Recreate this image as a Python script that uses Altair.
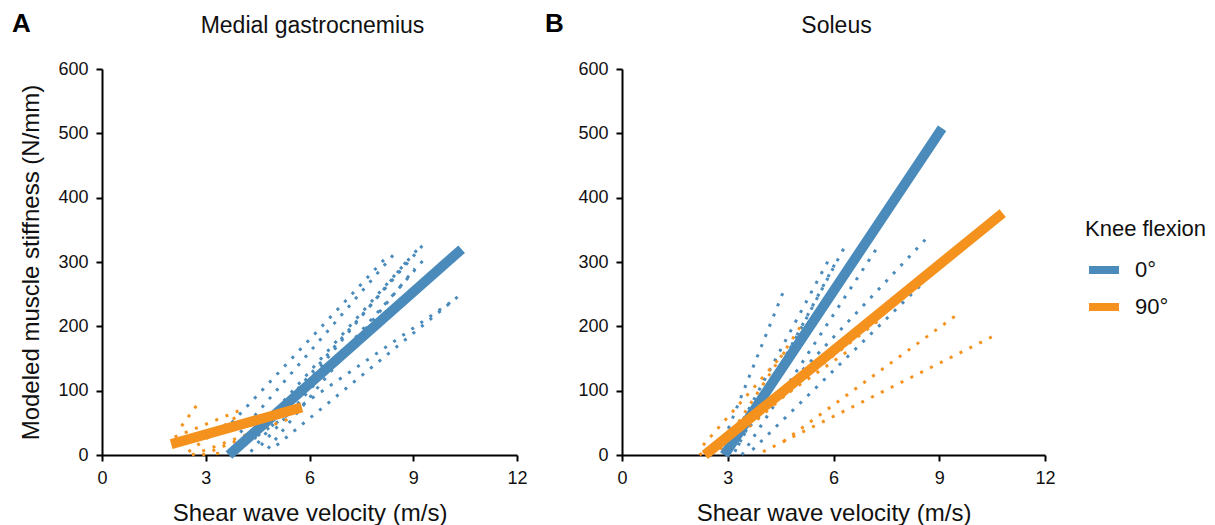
import altair as alt
import pandas as pd

FONT = "Liberation Sans"
KNEE = ["0°", "90°"]
COLORS = ["#4A8BBB", "#F5921E"]

# Individual regression lines: (x_start, y_start, x_end, y_end)
mg_0_indiv = [
    (3.75, 50, 8.25, 309),
    (4.0, 35, 8.47, 314),
    (4.2, 20, 9.13, 320),
    (4.4, 25, 9.34, 330),
    (4.3, 5, 8.9, 307),
    (4.6, 15, 9.28, 302),
    (4.8, 10, 9.05, 290),
    (4.5, 30, 10.15, 240),
    (5.05, 15, 10.4, 251),
]
mg_90_indiv = [
    (2.3, 45, 2.75, 78),
    (2.1, 28, 4.1, 72),
    (2.5, 5, 3.9, 60),
    (2.6, 0, 5.5, 58),
    (2.9, 0, 4.6, 38),
    (3.3, 2, 4.2, 10),
]
sol_0_indiv = [
    (2.9, 25, 4.6, 257),
    (3.0, 10, 5.85, 302),
    (3.2, 5, 6.04, 297),
    (3.3, 15, 6.35, 327),
    (3.4, 0, 7.2, 319),
    (3.2, 20, 8.66, 338),
    (3.7, 8, 8.55, 268),
]
sol_90_indiv = [
    (2.8, 8, 5.15, 207),
    (2.3, 15, 4.7, 165),
    (2.5, 5, 7.3, 210),
    (2.9, 10, 8.2, 265),
    (4.58, 21, 9.5, 218),
    (4.0, 5, 10.65, 188),
    (2.2, 0, 6.5, 165),
]

# Group regression lines
mg_0_mean = [(3.67, 0, 10.4, 320)]
mg_90_mean = [(2.0, 17, 5.78, 74)]
sol_0_mean = [(2.9, 0, 9.08, 508)]
sol_90_mean = [(2.35, 0, 10.8, 376)]


def seg_rows(panel, knee, segs, kind):
    rows = []
    for i, (x0, y0, x1, y1) in enumerate(segs):
        lid = f"{panel}-{knee}-{kind}-{i}"
        rows.append(dict(panel=panel, knee=knee, kind=kind, lid=lid, x=x0, y=y0, o=0))
        rows.append(dict(panel=panel, knee=knee, kind=kind, lid=lid, x=x1, y=y1, o=1))
    return rows


rows = []
rows += seg_rows("MG", "0°", mg_0_indiv, "ind")
rows += seg_rows("MG", "90°", mg_90_indiv, "ind")
rows += seg_rows("MG", "0°", mg_0_mean, "mean")
rows += seg_rows("MG", "90°", mg_90_mean, "mean")
rows += seg_rows("SOL", "0°", sol_0_indiv, "ind")
rows += seg_rows("SOL", "90°", sol_90_indiv, "ind")
rows += seg_rows("SOL", "0°", sol_0_mean, "mean")
rows += seg_rows("SOL", "90°", sol_90_mean, "mean")
df = pd.DataFrame(rows)

legend = alt.Legend(
    title="Knee flexion",
    orient="none",
    legendX=983,
    legendY=150,
    titleFont=FONT,
    titleFontSize=22,
    titleFontWeight="normal",
    titleColor="#111111",
    titlePadding=10,
    labelFont=FONT,
    labelFontSize=22,
    labelColor="#111111",
    labelOffset=12,
    symbolType="stroke",
    symbolStrokeWidth=8,
    symbolSize=900,
    rowPadding=2,
)


def panel(name, title, letter, width, show_y_title, letter_dx):
    d_ind = df[(df.panel == name) & (df.kind == "ind")]
    d_mean = df[(df.panel == name) & (df.kind == "mean")]
    yaxis_kw = dict(values=[0, 100, 200, 300, 400, 500, 600])
    yaxis_kw["title"] = "Modeled muscle stiffness (N/mm)" if show_y_title else ""
    x = alt.X("x:Q", scale=alt.Scale(domain=[0, 12]),
              axis=alt.Axis(values=[0, 3, 6, 9, 12], title="Shear wave velocity (m/s)"))
    y = alt.Y("y:Q", scale=alt.Scale(domain=[0, 600]), axis=alt.Axis(**yaxis_kw))
    cscale = alt.Scale(domain=KNEE, range=COLORS)

    layers = []
    for knee, col in zip(KNEE, COLORS):
        layers.append(
            alt.Chart(d_ind[d_ind.knee == knee]).mark_line(
                strokeDash=[3, 8], strokeWidth=3, strokeCap="butt", color=col
            ).encode(x=x, y=y, detail="lid:N", order="o:Q")
        )
    layers.append(
        alt.Chart(d_mean).mark_line(strokeWidth=10, strokeCap="butt").encode(
            x=x, y=y,
            color=alt.Color("knee:N", scale=cscale, legend=legend),
            detail="lid:N",
            order="o:Q",
        )
    )
    txt = pd.DataFrame({"t": [letter]})
    layers.append(
        alt.Chart(txt).mark_text(
            font=FONT, fontSize=26, fontWeight="bold", align="left",
            baseline="alphabetic", color="#000000",
        ).encode(text="t:N", x=alt.value(letter_dx), y=alt.value(-37))
    )
    ttl = pd.DataFrame({"t": [title]})
    layers.append(
        alt.Chart(ttl).mark_text(
            font=FONT, fontSize=23, align="center",
            baseline="alphabetic", color="#111111",
        ).encode(text="t:N", x=alt.value(width / 2 + 3), y=alt.value(-36))
    )
    return alt.layer(*layers).properties(width=width, height=386)


pA = panel("MG", "Medial gastrocnemius", "A", 415, True, -90)
pB = panel("SOL", "Soleus", "B", 423, False, -77)

chart = alt.hconcat(pA, pB, spacing=17).properties(
    padding={"left": 4, "top": 3, "right": 0, "bottom": 0}
).configure_view(stroke=None).configure_axis(
    grid=False,
    domainColor="#000000",
    domainWidth=2,
    tickColor="#000000",
    tickWidth=2,
    tickSize=6,
    labelFont=FONT,
    labelFontSize=18,
    labelColor="#111111",
    labelPadding=8,
    labelFlush=False,
    titleFont=FONT,
    titleFontSize=24,
    titleFontWeight="normal",
    titleColor="#111111",
    titlePadding=14,
)

chart.save("out.html", embed_options={"renderer": "svg", "actions": False})
